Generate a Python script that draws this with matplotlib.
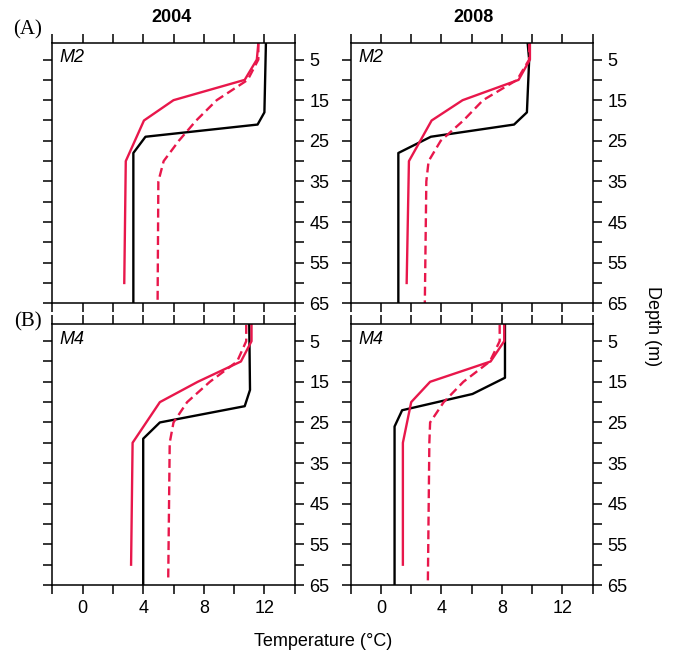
import matplotlib
matplotlib.use("Agg")
import matplotlib.pyplot as plt

plt.rcParams['font.family'] = ['Liberation Sans', 'DejaVu Sans']

RED = '#E8174B'

# 2004 M2
m2_04_black_d = [1, 18, 21, 24, 28, 65]
m2_04_black_t = [12.1, 12.0, 11.55, 4.15, 3.35, 3.35]
m2_04_red_d = [1, 5, 10, 15, 20, 30, 60]
m2_04_red_t = [11.6, 11.5, 10.7, 6.0, 4.05, 2.85, 2.75]
m2_04_dash_d = [1, 5, 10, 15, 20, 25, 30, 35, 65]
m2_04_dash_t = [11.6, 11.6, 10.9, 8.85, 7.5, 6.35, 5.35, 5.0, 4.95]

# 2008 M2
m2_08_black_d = [1, 5, 18, 21, 24, 28, 65]
m2_08_black_t = [9.7, 9.8, 9.65, 8.8, 3.3, 1.15, 1.15]
m2_08_red_d = [1, 5, 10, 15, 20, 30, 60]
m2_08_red_t = [9.85, 9.85, 9.1, 5.4, 3.35, 1.85, 1.7]
m2_08_dash_d = [1, 5, 10, 15, 20, 25, 30, 35, 65]
m2_08_dash_t = [9.8, 9.8, 9.0, 6.75, 5.45, 3.95, 3.15, 3.0, 2.9]

# 2004 M4
m4_04_black_d = [1, 17, 21, 25, 29, 65]
m4_04_black_t = [11.0, 11.05, 10.7, 5.1, 4.0, 4.0]
m4_04_red_d = [1, 5, 10, 15, 20, 30, 60]
m4_04_red_t = [11.15, 11.15, 10.45, 7.6, 5.1, 3.3, 3.2]
m4_04_dash_d = [1, 5, 10, 15, 20, 25, 30, 64]
m4_04_dash_t = [10.8, 10.8, 10.2, 8.4, 6.9, 6.0, 5.75, 5.65]

# 2008 M4
m4_08_black_d = [1, 14, 18, 22, 26, 65]
m4_08_black_t = [8.2, 8.2, 6.05, 1.4, 0.9, 0.9]
m4_08_red_d = [1, 5, 10, 15, 20, 30, 60]
m4_08_red_t = [8.15, 8.15, 7.25, 3.25, 2.0, 1.45, 1.45]
m4_08_dash_d = [1, 5, 10, 15, 20, 25, 30, 65]
m4_08_dash_t = [7.85, 7.85, 7.2, 5.45, 4.15, 3.25, 3.2, 3.1]

years = ['2004', '2008']
stations = ['M2', 'M4']
panel_letters = ['(A)', '(B)']
x_ticks = list(range(-2, 15, 2))
x_labels = ['' if t not in (0, 4, 8, 12) else str(t) for t in x_ticks]
y_ticks = list(range(5, 66, 5))
y_labels = [str(t) if t % 10 == 5 else '' for t in y_ticks]

panels = {
    (0, 0): (m2_04_black_d, m2_04_black_t, m2_04_red_d, m2_04_red_t, m2_04_dash_d, m2_04_dash_t),
    (0, 1): (m2_08_black_d, m2_08_black_t, m2_08_red_d, m2_08_red_t, m2_08_dash_d, m2_08_dash_t),
    (1, 0): (m4_04_black_d, m4_04_black_t, m4_04_red_d, m4_04_red_t, m4_04_dash_d, m4_04_dash_t),
    (1, 1): (m4_08_black_d, m4_08_black_t, m4_08_red_d, m4_08_red_t, m4_08_dash_d, m4_08_dash_t),
}

W, H = 675, 651
fig = plt.figure(figsize=(W / 100, H / 100), dpi=100)

xs = [(52.3, 294.7), (350.7, 592.7)]
ys = [(42.7, 303.3), (324.3, 585.0)]
title_x = [172, 474]

for (r, c), (bd, bt, rd, rt, dd, dt) in panels.items():
    x0, x1 = xs[c]
    y0, y1 = ys[r]
    ax = fig.add_axes([x0 / W, 1 - y1 / H, (x1 - x0) / W, (y1 - y0) / H])
    ax.plot(bt, bd, color='black', lw=1.7)
    ax.plot(rt, rd, color=RED, lw=1.7)
    ax.plot(dt, dd, color=RED, lw=1.7, ls=(0, (3.8, 2.0)))
    ax.set_xlim(-2, 14)
    ax.set_ylim(65, 0.85)
    ax.set_xticks(x_ticks)
    ax.set_xticklabels(x_labels if r == 1 else [''] * len(x_ticks))
    ax.set_yticks(y_ticks)
    ax.set_yticklabels(y_labels)
    ax.tick_params(axis='both', which='both', direction='out', length=6.5, width=1.1,
                   top=True, bottom=True, left=True, right=True,
                   labelleft=False, labelright=True, labelsize=13, pad=4)
    for s in ax.spines.values():
        s.set_linewidth(1.1)
    ax.text(0.03, 0.975, stations[r], transform=ax.transAxes, ha='left', va='top',
            fontsize=13, style='italic')
    if r == 0:
        fig.text(title_x[c] / W, 1 - 17 / H, years[c], fontsize=13, fontweight='bold',
                 ha='center', va='center')
    if c == 0:
        fig.text(28 / W, 1 - (30 if r == 0 else 322) / H, panel_letters[r],
                 family=['Liberation Serif', 'DejaVu Serif'], fontsize=15,
                 ha='center', va='center')

fig.text(652 / W, 1 - 326 / H, 'Depth (m)', rotation=-90, ha='center', va='center', fontsize=13)
fig.text(323 / W, 1 - 642 / H, 'Temperature (°C)', ha='center', va='center', fontsize=13)

fig.savefig('out.png', dpi=100)
